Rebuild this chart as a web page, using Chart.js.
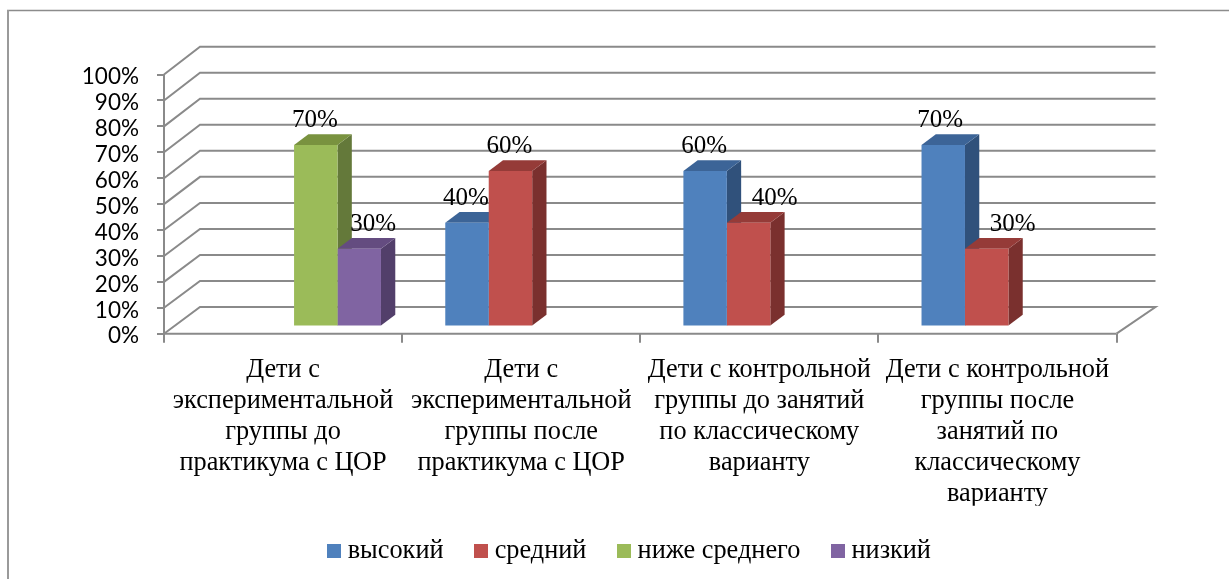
<!DOCTYPE html>
<html lang="ru">
<head>
<meta charset="utf-8">
<title>Chart</title>
<script src="https://cdn.jsdelivr.net/npm/chart.js@4"></script>
<style>html,body{margin:0;padding:0;background:#fff;overflow:hidden}canvas{display:block}</style>
</head>
<body>
<canvas id="c" width="1229" height="579"></canvas>
<script>
const categories = [
  ["Дети с","экспериментальной","группы до","практикума с ЦОР"],
  ["Дети с","экспериментальной","группы после","практикума с ЦОР"],
  ["Дети с контрольной","группы до занятий","по классическому","варианту"],
  ["Дети с контрольной","группы после","занятий по","классическому","варианту"]
];
const seriesNames = ["высокий","средний","ниже среднего","низкий"];
const vysokiy = [null,40,60,70];
const sredniy = [null,60,40,30];
const nizheSrednego = [70,null,null,null];
const nizkiy = [30,null,null,null];
const seriesValues = [vysokiy,sredniy,nizheSrednego,nizkiy];

const frontColors = ["#4F81BD","#C0504D","#9BBB59","#8064A2"];
const sideColors  = ["#30517B","#7A302E","#64793A","#523F6A"];
const topColors   = ["#3C6497","#953B38","#79923F","#644C80"];
const gridColor = "#8A8A8A";
const serif = "'Liberation Serif'";

// label nudges for the labels moved away from the bars in the original
const labelNudge = {"3:0":15,"1:2":27,"1:3":27,"0:3":-2};

const BAR_DX = 11, BAR_DY = -7.3, SIDE_DX = 14.3, SIDE_DY = -10.7;

function poly(ctx, pts, fill){
  ctx.beginPath();
  pts.forEach((p,i)=> i?ctx.lineTo(p[0],p[1]):ctx.moveTo(p[0],p[1]));
  ctx.closePath();
  ctx.fillStyle = fill;
  ctx.fill();
}
function swatch(color){
  const s = document.createElement("canvas");
  s.width = 14; s.height = 14;
  const g = s.getContext("2d");
  g.fillStyle = color; g.fillRect(0,0,14,14);
  return s;
}

const box3d = {
  id:"box3d",
  afterLayout(chart){
    const l = chart.legend;
    const d = 74;
    l.left += d; l.right += d;
    l.top = 501; l.bottom = 579;
  },
  beforeDraw(chart){
    const c = chart.ctx;
    c.save();
    c.strokeStyle = "#8C8C8C"; c.lineWidth = 1.5;
    c.beginPath(); c.moveTo(7,10.5); c.lineTo(1229,10.5); c.stroke();
    c.strokeStyle = "#9A9A9A"; c.lineWidth = 2;
    c.beginPath(); c.moveTo(8,10); c.lineTo(8,579); c.stroke();
    // walls: gridlines from the front axis to the back wall
    const {left,right} = chart.chartArea;
    const y = chart.scales.y;
    c.strokeStyle = gridColor; c.lineWidth = 2;
    y.ticks.forEach(t=>{
      const fy = y.getPixelForValue(t.value);
      const by = fy - 26.7 - 0.011*t.value;
      c.beginPath();
      c.moveTo(left,fy); c.lineTo(left+36,by); c.lineTo(right+39,by);
      if(t.value===0) c.lineTo(right,fy);
      c.stroke();
    });
    // floor front edge
    c.beginPath(); c.moveTo(left,y.getPixelForValue(0)); c.lineTo(right,y.getPixelForValue(0)); c.stroke();
    c.restore();
  },
  beforeDatasetsDraw(chart){
    const c = chart.ctx;
    c.save();
    c.translate(BAR_DX,BAR_DY);
    // sides and tops left to right; the library then paints the front faces over them
    seriesNames.forEach((n,i)=>{
      chart.getDatasetMeta(i).data.forEach((b,k)=>{
        if(seriesValues[i][k]==null) return;
        const p = b.getProps(["x","y","base","width"],true);
        const l = p.x-p.width/2, r = p.x+p.width/2;
        poly(c,[[r,p.y],[r+SIDE_DX,p.y+SIDE_DY],[r+SIDE_DX,p.base+SIDE_DY],[r,p.base]],sideColors[i]);
        poly(c,[[l,p.y],[l+SIDE_DX,p.y+SIDE_DY],[r+SIDE_DX,p.y+SIDE_DY],[r,p.y]],topColors[i]);
      });
    });
  },
  afterDatasetsDraw(chart){
    const c = chart.ctx;
    c.restore();
    c.save();
    c.font = "25px "+serif;
    c.fillStyle = "#000";
    c.textAlign = "center";
    c.textBaseline = "middle";
    chart.data.datasets.forEach((ds,i)=>{
      chart.getDatasetMeta(i).data.forEach((b,k)=>{
        const v = seriesValues[i][k];
        if(v==null) return;
        const p = b.getProps(["x","y"],true);
        c.fillText(v+"%", p.x+BAR_DX-1+(labelNudge[i+":"+k]||0), p.y+BAR_DY-24.5);
      });
    });
    c.restore();
  }
};

new Chart(document.getElementById("c"),{
  type:"bar",
  data:{
    labels:categories,
    datasets:seriesNames.map((n,i)=>({
      label:n,
      data:seriesValues[i],
      backgroundColor:frontColors[i],
      borderWidth:0,
      categoryPercentage:0.73,
      barPercentage:1
    }))
  },
  plugins:[box3d],
  options:{
    responsive:false,
    animation:false,
    devicePixelRatio:1,
    layout:{padding:{top:74.5,right:112.5,left:0,bottom:0}},
    plugins:{
      tooltip:{enabled:false},
      title:{display:false},
      legend:{
        position:"bottom",
        labels:{
          color:"#000",
          font:{family:serif,size:26.3},
          usePointStyle:true,
          pointStyleWidth:1,
          boxHeight:20,
          padding:37,
          generateLabels(chart){
            return chart.data.datasets.map((d,i)=>({
              text:d.label,
              datasetIndex:i,
              pointStyle:swatch(frontColors[i]),
              fontColor:"#000",
              lineWidth:0
            }));
          }
        }
      }
    },
    scales:{
      x:{
        afterFit(s){ s.height = 172; },
        grid:{display:true,drawOnChartArea:false,drawTicks:true,tickLength:9,color:gridColor,lineWidth:2},
        border:{display:false},
        ticks:{
          color:"#000",
          autoSkip:false,
          maxRotation:0,
          minRotation:0,
          padding:12,
          font:{family:serif,size:26.3,lineHeight:1.175}
        }
      },
      y:{
        min:0,max:100,
        afterFit(s){ s.width = 164; },
        grid:{display:true,drawOnChartArea:false,drawTicks:true,tickLength:7,color:gridColor,lineWidth:2},
        border:{display:true,color:gridColor,width:2},
        ticks:{
          stepSize:10,
          autoSkip:false,
          color:"#000",
          padding:18,
          labelOffset:2.5,
          font:{family:"Lato",size:22.5},
          callback:v=>v+"%"
        }
      }
    }
  }
});
</script>
</body>
</html>
